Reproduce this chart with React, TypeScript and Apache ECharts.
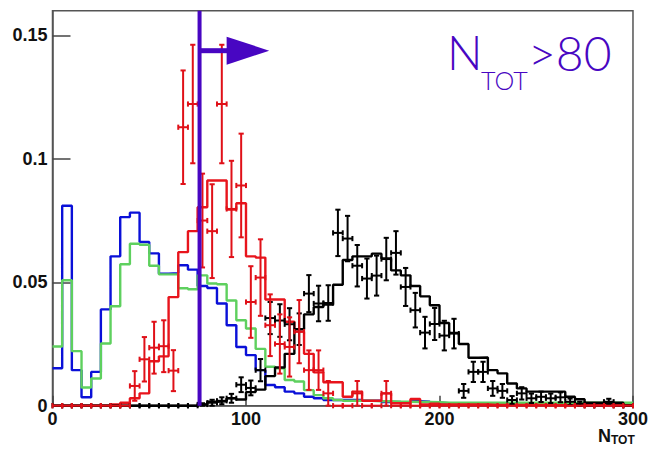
import React, { useEffect, useRef } from "react";
import * as echarts from "echarts";

// N_TOT binning: 60 bins of width 5 from 0 to 300
const BIN_WIDTH = 5;
const X_MAX = 300;
const Y_MAX = 0.16;

const xTicks = [0, 100, 200, 300];
const yTicks = [0, 0.05, 0.1, 0.15];

// Normalised template histograms (one value per bin)
const blueHist = [
  0.0152, 0.081, 0.0144, 0.0034, 0.0137, 0.039, 0.0605, 0.0764, 0.0782, 0.0663,
  0.0617, 0.0535, 0.0537, 0.0569, 0.0551, 0.0485, 0.0477, 0.0414, 0.0326, 0.0238,
  0.0205, 0.0144, 0.0084, 0.0075, 0.0057, 0.005, 0.0036, 0.003, 0.0023, 0.0023,
  0.0023, 0.0023, 0.002, 0.002, 0.0015, 0.0015, 0.0012, 0.0018, 0.0016, 0.0012,
  0.001, 0.001, 0.0008, 0.0008, 0.0008, 0.0006, 0.0006, 0.0006, 0.0005, 0.0005,
  0.0005, 0.0004, 0.0004, 0.0004, 0.0003, 0.0003, 0.0003, 0.0003, 0.0002, 0.0002,
];

const greenHist = [
  0.024, 0.0508, 0.0221, 0.0074, 0.011, 0.0252, 0.0403, 0.0573, 0.0656, 0.0652,
  0.0567, 0.0532, 0.0532, 0.0476, 0.0472, 0.0528, 0.0495, 0.0492, 0.0426, 0.0346,
  0.0313, 0.023, 0.0158, 0.0152, 0.0104, 0.0098, 0.0063, 0.0043, 0.003, 0.0023,
  0.002, 0.002, 0.002, 0.0018, 0.0018, 0.0016, 0.0016, 0.0015, 0.0015, 0.0014,
  0.0012, 0.0012, 0.0012, 0.0012, 0.0012, 0.0012, 0.0012, 0.0012, 0.0012, 0.0012,
  0.0012, 0.0012, 0.0012, 0.0012, 0.0012, 0.0012, 0.0012, 0.0012, 0.0012, 0.0012,
];

const redHist = [
  0, 0, 0, 0, 0, 0, 0.0005, 0.0012, 0.003, 0.005,
  0.018, 0.02, 0.044, 0.0622, 0.0707, 0.0804, 0.0912, 0.0912, 0.0795, 0.082,
  0.0605, 0.06, 0.043, 0.043, 0.034, 0.03, 0.021, 0.0135, 0.0095, 0.0095,
  0.0036, 0.0057, 0.002, 0.002, 0.005, 0.001, 0.001, 0.0027, 0.0005, 0.0008,
  0.0005, 0.0005, 0.0005, 0.0005, 0.0005, 0.0003, 0.0003, 0.0003, 0.0003, 0.0003,
  0.0003, 0.0002, 0.0002, 0.0002, 0.0002, 0.0002, 0.0002, 0.0002, 0.0002, 0.0002,
];

const blackHist = [
  0, 0, 0, 0, 0, 0, 0, 0, 0, 0,
  0, 0, 0, 0, 0, 0.0005, 0.0016, 0.0018, 0.003, 0.0025,
  0.0055, 0.0065, 0.012, 0.0155, 0.021, 0.031, 0.037, 0.04, 0.041, 0.049,
  0.059, 0.0605, 0.0605, 0.0616, 0.0596, 0.0548, 0.0528, 0.0485, 0.0443, 0.0407,
  0.0335, 0.0295, 0.025, 0.0194, 0.0195, 0.0144, 0.0131, 0.009, 0.007, 0.0057,
  0.0057, 0.0057, 0.0057, 0.0036, 0.0026, 0.0012, 0.0012, 0.0012, 0.0012, 0,
];

// Measured points with their statistical errors
const redPoints = [
  0, 0, 0, 0, 0, 0, 0, 0, 0.008, 0.0188,
  0.0235, 0.0241, 0.0142, 0.1128, 0.1222, 0.075, 0.0707, 0.1222, 0.0797, 0.0892,
  0.042, 0.0519, 0.0326, 0.025, 0.0238, 0.03, 0.0144, 0.0144, 0.005, 0,
  0, 0.005, 0, 0, 0.005, 0, 0, 0, 0, 0,
  0, 0, 0, 0, 0, 0, 0, 0, 0, 0,
  0, 0, 0, 0, 0, 0, 0, 0, 0, 0,
];
const redErrors = [
  0, 0, 0, 0, 0, 0, 0, 0, 0.006, 0.009,
  0.0105, 0.0105, 0.0083, 0.023, 0.024, 0.019, 0.019, 0.024, 0.0195, 0.021,
  0.0145, 0.0155, 0.0125, 0.012, 0.012, 0.0128, 0.008, 0.008, 0.005, 0,
  0, 0.005, 0, 0, 0.005, 0, 0, 0, 0, 0,
  0, 0, 0, 0, 0, 0, 0, 0, 0, 0,
  0, 0, 0, 0, 0, 0, 0, 0, 0, 0,
];

const blackPoints = [
  0, 0, 0, 0, 0, 0, 0, 0, 0, 0,
  0, 0, 0, 0, 0, 0.0005, 0.0012, 0.002, 0.003, 0.0085,
  0.0072, 0.0144, 0.0355, 0.0345, 0.033, 0.031, 0.0454, 0.0414, 0.0416, 0.07,
  0.0677, 0.0567, 0.0515, 0.0527, 0.0594, 0.0619, 0.0481, 0.0387, 0.0296, 0.0331,
  0.0284, 0.0292, 0.006, 0.0137, 0.0137, 0.007, 0.006, 0.0023, 0.005, 0.003,
  0.0036, 0.003, 0.0034, 0.0016, 0.0008, 0, 0, 0.0016, 0, 0,
];
const blackErrors = [
  0, 0, 0, 0, 0, 0, 0, 0, 0, 0,
  0, 0, 0, 0, 0, 0.0005, 0.0012, 0.0014, 0.0018, 0.003,
  0.003, 0.0045, 0.0065, 0.0066, 0.0065, 0.0064, 0.0075, 0.0072, 0.0072, 0.0094,
  0.0092, 0.0084, 0.0081, 0.0081, 0.0086, 0.0088, 0.0077, 0.007, 0.0064, 0.0065,
  0.006, 0.006, 0.0028, 0.0041, 0.0041, 0.003, 0.0028, 0.0016, 0.0025, 0.0019,
  0.0021, 0.0019, 0.002, 0.0013, 0.0008, 0, 0, 0.0012, 0, 0,
];

// Selection cut and its arrow
const CUT_VALUE = 76;
const ARROW_LEVEL = 0.1438;
const ARROW_HEAD_START = 90;
const ARROW_TIP = 112;

const PURPLE = "#4806c2";
const AXIS_FONT = "'Liberation Sans', Arial, Helvetica, sans-serif";

function stepData(values: number[]) {
  const pts: number[][] = values.map((v, i) => [i * BIN_WIDTH, v]);
  pts.push([values.length * BIN_WIDTH, values[values.length - 1]]);
  return pts;
}

function pointData(values: number[], errors: number[]) {
  return values.map((v, i) => [i * BIN_WIDTH, (i + 1) * BIN_WIDTH, v, errors[i]]);
}

function histSeries(name: string, values: number[], color: string, z: number) {
  return {
    name,
    type: "line",
    data: stepData(values),
    step: "end",
    symbol: "none",
    z,
    clip: true,
    lineStyle: { color, width: 2.4 },
    silent: true,
  };
}

function errorSeries(name: string, values: number[], errors: number[], color: string, z: number) {
  const cap = 2.6;
  return {
    name,
    type: "custom",
    z,
    silent: true,
    encode: { x: [0, 1], y: 2 },
    data: pointData(values, errors),
    renderItem: (_params: any, api: any) => {
      const lo = api.value(0);
      const hi = api.value(1);
      const v = api.value(2);
      const e = api.value(3);
      const mid = (lo + hi) / 2;
      const pl = api.coord([lo, v]);
      const pr = api.coord([hi, v]);
      const st = { stroke: color, lineWidth: 2 };
      const children: any[] = [
        { type: "line", shape: { x1: pl[0], y1: pl[1], x2: pr[0], y2: pr[1] }, style: st },
        { type: "line", shape: { x1: pl[0], y1: pl[1] - cap, x2: pl[0], y2: pl[1] + cap }, style: st },
        { type: "line", shape: { x1: pr[0], y1: pr[1] - cap, x2: pr[0], y2: pr[1] + cap }, style: st },
      ];
      if (e > 0) {
        const pt = api.coord([mid, v + e]);
        const pb = api.coord([mid, Math.max(v - e, 0)]);
        children.push(
          { type: "line", shape: { x1: pt[0], y1: pt[1], x2: pb[0], y2: pb[1] }, style: st },
          { type: "line", shape: { x1: pt[0] - cap, y1: pt[1], x2: pt[0] + cap, y2: pt[1] }, style: st },
          { type: "line", shape: { x1: pb[0] - cap, y1: pb[1], x2: pb[0] + cap, y2: pb[1] }, style: st }
        );
      }
      return { type: "group", children };
    },
  };
}

function cutSeries() {
  return {
    name: "cut",
    type: "custom",
    z: 10,
    silent: true,
    encode: { x: 0, y: 1 },
    data: [[CUT_VALUE, ARROW_LEVEL, ARROW_HEAD_START, ARROW_TIP]],
    renderItem: (_params: any, api: any) => {
      const cut = api.value(0);
      const lvl = api.value(1);
      const headStart = api.value(2);
      const tip = api.value(3);
      const bottom = api.coord([cut, 0]);
      const top = api.coord([cut, Y_MAX]);
      const a0 = api.coord([cut, lvl]);
      const a1 = api.coord([headStart, lvl]);
      const a2 = api.coord([tip, lvl]);
      const half = 14;
      return {
        type: "group",
        children: [
          { type: "line", shape: { x1: bottom[0], y1: bottom[1], x2: top[0], y2: top[1] }, style: { stroke: PURPLE, lineWidth: 4 } },
          { type: "line", shape: { x1: a0[0], y1: a0[1], x2: a1[0] + 1, y2: a1[1] }, style: { stroke: PURPLE, lineWidth: 5 } },
          {
            type: "polygon",
            shape: { points: [[a1[0], a1[1] - half], [a2[0], a2[1]], [a1[0], a1[1] + half]] },
            style: { fill: PURPLE },
          },
        ],
      };
    },
  };
}

export default function App() {
  const ref = useRef<HTMLDivElement>(null);

  useEffect(() => {
    if (!ref.current) return;
    const chart = echarts.init(ref.current, null, { renderer: "svg" });
    const labelFont = "Lato, 'DejaVu Sans', sans-serif";
    chart.setOption({
      animation: false,
      backgroundColor: "#ffffff",
      grid: {
        left: 52.5,
        top: 10.7,
        width: 583.5,
        height: 395,
        show: true,
        borderColor: "#555",
        borderWidth: 1.5,
        backgroundColor: "transparent",
      },
      xAxis: {
        type: "value",
        min: 0,
        max: X_MAX,
        interval: 100,
        axisLine: { show: true, lineStyle: { color: "#555", width: 1.5 } },
        axisTick: { show: true, inside: true, length: 10, customValues: xTicks, lineStyle: { color: "#444", width: 1.5 } },
        axisLabel: {
          customValues: xTicks,
          margin: 4,
          color: "#111",
          fontFamily: AXIS_FONT,
          fontWeight: "bold",
          fontSize: 18,
        },
        splitLine: { show: false },
      },
      yAxis: {
        type: "value",
        min: 0,
        max: Y_MAX,
        interval: 0.05,
        axisLine: { show: true, lineStyle: { color: "#555", width: 1.5 } },
        axisTick: { show: true, inside: true, length: 18, customValues: yTicks, lineStyle: { color: "#444", width: 1.5 } },
        axisLabel: {
          customValues: yTicks,
          margin: 5,
          color: "#111",
          fontFamily: AXIS_FONT,
          fontWeight: "bold",
          fontSize: 18,
          formatter: (v: number) => (yTicks.indexOf(v) >= 0 ? String(v) : ""),
        },
        splitLine: { show: false },
      },
      graphic: [
        { type: "text", left: 447, top: 28, style: { text: "N", font: `300 47px ${labelFont}`, fill: PURPLE } },
        { type: "text", left: 481, top: 67, style: { text: "TOT", font: `300 25px ${labelFont}`, fill: PURPLE } },
        { type: "text", left: 528, top: 28, style: { text: ">80", font: `300 48px ${labelFont}`, fill: PURPLE } },
        { type: "text", left: 598, top: 427, style: { text: "N", font: `bold 18px ${AXIS_FONT}`, fill: "#111" } },
        { type: "text", left: 611, top: 434, style: { text: "TOT", font: `bold 12px ${AXIS_FONT}`, fill: "#111" } },
      ],
      series: [
        histSeries("blue", blueHist, "#0a10d8", 2),
        histSeries("green", greenHist, "#5ed05e", 3),
        histSeries("red", redHist, "#e8141c", 4),
        histSeries("black", blackHist, "#000000", 5),
        errorSeries("black points", blackPoints, blackErrors, "#000000", 6),
        errorSeries("red points", redPoints, redErrors, "#e01018", 7),
        cutSeries(),
      ],
    });
    return () => chart.dispose();
  }, []);

  return (
    <div
      ref={ref}
      style={{ position: "fixed", left: 0, top: 0, width: 651, height: 452, background: "#fff" }}
    />
  );
}
